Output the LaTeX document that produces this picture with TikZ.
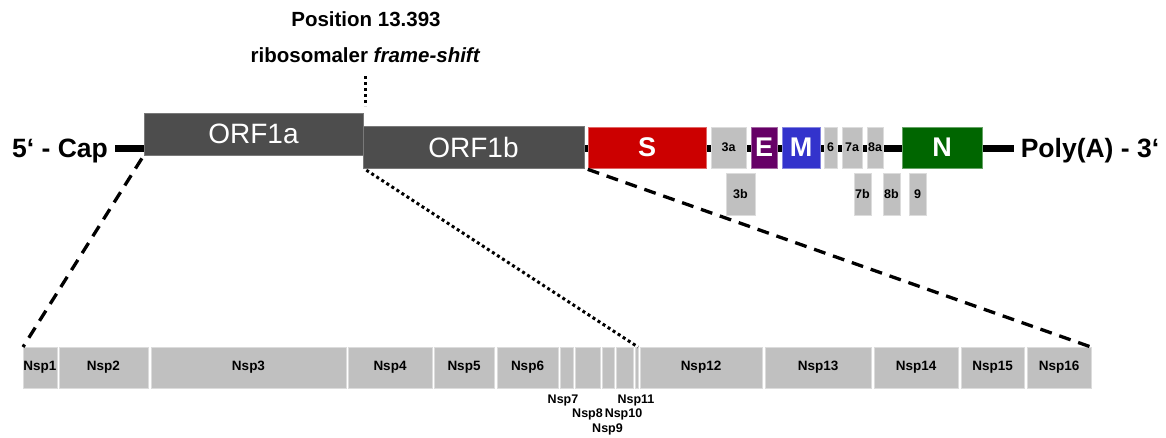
\documentclass[tikz,border=0pt]{standalone}
\usepackage{fontspec}
\setmainfont{Liberation Sans}
\definecolor{orf}{HTML}{4D4D4D}
\definecolor{lg}{HTML}{C0C0C0}
\definecolor{sred}{HTML}{CC0000}
\definecolor{epur}{HTML}{660066}
\definecolor{mblue}{HTML}{3333CC}
\definecolor{ngreen}{HTML}{006600}
\newcommand\gbox[7]{\node[#6, anchor=north west, minimum width={(#3-#2)*1pt}, minimum height={(#5-#4)*1pt}] (#1) at (#2,#4) {#7};}
\tikzset{
  box/.style={inner sep=0pt, outer sep=0pt, line width=0.8pt},
  orfbox/.style={box, fill=orf, draw=orf!75!white, text=white, font=\fontsize{28}{30}\selectfont},
  gene/.style={box, text=white, font=\bfseries\fontsize{27}{30}\selectfont},
  smallbox/.style={box, fill=lg, draw=lg!55!white, font=\bfseries\fontsize{12.5}{14}\selectfont},
  nspbox/.style={box, fill=lg, draw=lg!55!white, font=\bfseries\fontsize{13.5}{15}\selectfont},
  lab/.style={inner sep=0pt, font=\bfseries\fontsize{12.5}{14}\selectfont},
  endlab/.style={inner sep=0pt, anchor=base, font=\bfseries\fontsize{26.5}{28}\selectfont},
  toplab/.style={inner sep=0pt, anchor=base, font=\bfseries\fontsize{20.5}{24}\selectfont},
  zoomdash/.style={line width=3.3pt, dash pattern=on 12pt off 8pt},
  zoomdot/.style={line width=3pt, dash pattern=on 3pt off 3pt},
}
\begin{document}
\begin{tikzpicture}[x=1pt, y=-1pt]
\useasboundingbox (0,0) rectangle (1166,437);
% backbone
\coordinate (lineL) at (115,148);
\coordinate (lineR) at (1014,148);
\draw[line width=7pt] (lineL) -- (lineR);
\node[endlab] (cap) at (60,157.5) {5‘ - Cap};
\node[endlab] (polya) at (1090,157.5) {Poly(A) - 3‘};
% top labels
\node[toplab] (pos) at (366,26) {Position 13.393};
\node[toplab] (ribo) at (365.5,62) {ribosomaler \textit{frame-shift}};
\coordinate (fsTop) at (365,76);
\coordinate (fsEnd) at (365,106);
\draw[zoomdot] (fsTop) -- (fsEnd);
% ORFs
\gbox{orf1a}{144}{363}{113}{155}{orfbox}{ORF1a}
\gbox{orf1b}{363}{584}{126}{168}{orfbox}{ORF1b}
% structural / accessory genes
\gbox{S}{588}{706}{127}{168}{gene, fill=sred, draw=sred!60!white}{S}
\gbox{g3a}{711}{746}{127}{168}{smallbox}{3a}
\gbox{E}{751}{777}{127}{168}{gene, fill=epur, draw=epur!60!white}{E}
\gbox{M}{782}{820}{127}{168}{gene, fill=mblue, draw=mblue!60!white}{M}
\gbox{g6}{824}{837}{127}{168}{smallbox}{6}
\gbox{g7a}{842}{862}{127}{168}{smallbox}{7a}
\gbox{g8a}{867}{883}{127}{168}{smallbox}{8a}
\gbox{N}{902}{982}{127}{168}{gene, fill=ngreen, draw=ngreen!60!white}{N}
\gbox{g3b}{726}{755}{173}{215}{smallbox}{3b}
\gbox{g7b}{854}{871}{173}{215}{smallbox}{7b}
\gbox{g8b}{883}{900}{173}{215}{smallbox}{8b}
\gbox{g9}{909}{926}{173}{215}{smallbox}{9}
% Nsps
\gbox{nsp1}{23}{57}{347}{388}{nspbox}{Nsp1}
\gbox{nsp2}{59}{148}{347}{388}{nspbox}{Nsp2}
\gbox{nsp3}{151}{346}{347}{388}{nspbox}{Nsp3}
\gbox{nsp4}{348}{432}{347}{388}{nspbox}{Nsp4}
\gbox{nsp5}{434}{494}{347}{388}{nspbox}{Nsp5}
\gbox{nsp6}{497}{558}{347}{388}{nspbox}{Nsp6}
\gbox{nsp7}{560}{573}{347}{388}{nspbox}{}
\gbox{nsp8}{575}{600}{347}{388}{nspbox}{}
\gbox{nsp9}{602}{614}{347}{388}{nspbox}{}
\gbox{nsp10}{616}{633}{347}{388}{nspbox}{}
\gbox{nsp11}{635}{638}{347}{388}{nspbox}{}
\gbox{nsp12}{640}{762}{347}{388}{nspbox}{Nsp12}
\gbox{nsp13}{765}{871}{347}{388}{nspbox}{Nsp13}
\gbox{nsp14}{874}{958}{347}{388}{nspbox}{Nsp14}
\gbox{nsp15}{961}{1024}{347}{388}{nspbox}{Nsp15}
\gbox{nsp16}{1027}{1091}{347}{388}{nspbox}{Nsp16}
\node[lab] (l7) at (563,400) {Nsp7};
\node[lab] (l8) at (587.5,414) {Nsp8};
\node[lab] (l9) at (607.5,429) {Nsp9};
\node[lab] (l10) at (623.5,414) {Nsp10};
\node[lab] (l11) at (636,400) {Nsp11};
% zoom connectors
\draw[zoomdash, shorten <=4pt] (orf1a.south west) -- (nsp1.north west);
\draw[zoomdot, shorten <=4pt] (orf1b.south west) -- (nsp11.north east);
\draw[zoomdash, shorten <=4pt] (orf1b.south east) -- (nsp16.north east);
\end{tikzpicture}
\end{document}
